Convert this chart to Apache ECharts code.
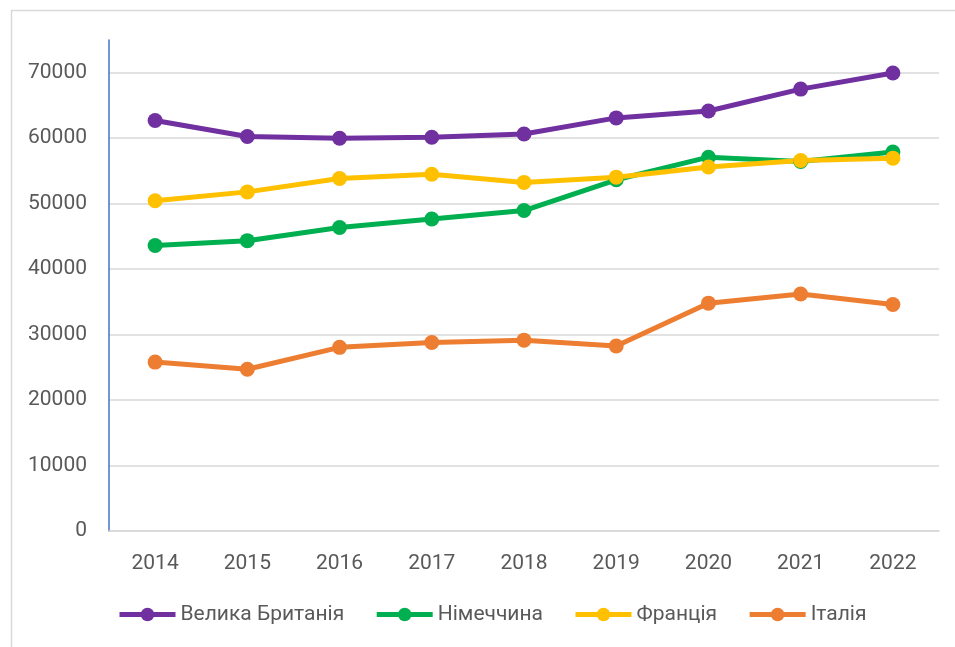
<!DOCTYPE html>
<html>
<head>
<meta charset="utf-8">
<script src="https://cdn.jsdelivr.net/npm/echarts@6/dist/echarts.min.js"></script>
<style>
html,body{margin:0;padding:0;background:#fff;}
#chart{width:955px;height:647px;}
</style>
</head>
<body>
<div id="chart"></div>
<script>
const years = ['2014','2015','2016','2017','2018','2019','2020','2021','2022'];
const seriesNames = ['Велика Британія','Німеччина','Франція','Італія'];
const uk = [62700, 60250, 60000, 60150, 60650, 63100, 64150, 67500, 69950];
const germany = [43600, 44350, 46350, 47650, 48950, 53650, 57100, 56450, 57900];
const france = [50450, 51800, 53850, 54500, 53250, 54050, 55600, 56600, 56950];
const italy = [25800, 24700, 28050, 28800, 29150, 28250, 34800, 36200, 34600];
const colors = ['#7030A0','#00B050','#FFC000','#ED7D31'];
const values = [uk, germany, france, italy];

const FONT = 'Roboto';
const chart = echarts.init(document.getElementById('chart'), null, {renderer:'canvas'});
chart.setOption({
  animation: false,
  backgroundColor: '#fff',
  color: colors,
  graphic: [{
    type: 'rect', left: 9, top: 8,
    shape: {x: 0, y: 0, width: 960, height: 660},
    style: {fill: 'none', stroke: '#D9D9D9', lineWidth: 1.5},
    silent: true, z: -1
  }],
  grid: {left: 109, right: 16, top: 40, bottom: 116},
  legend: {
    left: 117, top: 604, padding: 0,
    itemWidth: 56, itemHeight: 17, itemGap: 30,
    lineStyle: {width: 5},
    textStyle: {fontFamily: FONT, fontSize: 21, color: '#595959'},
    data: seriesNames
  },
  xAxis: {
    type: 'category', data: years, boundaryGap: true,
    axisLine: {show: true, lineStyle: {color: '#D9D9D9', width: 1.5}},
    axisTick: {show: false},
    axisLabel: {fontFamily: FONT, fontSize: 21, color: '#595959', margin: 22}
  },
  yAxis: {
    type: 'value', min: 0, max: 75000, interval: 10000,
    axisLine: {show: true, lineStyle: {color: '#4472C4', width: 1.5}},
    axisTick: {show: false},
    axisLabel: {fontFamily: FONT, fontSize: 21, color: '#595959', margin: 22, showMaxLabel: false,
      formatter: v => String(v)},
    splitLine: {show: true, showMaxLine: false, lineStyle: {color: '#D9D9D9', width: 1.5}}
  },
  series: seriesNames.map((n, i) => ({
    name: n, type: 'line', data: values[i],
    symbol: 'circle', symbolSize: 15,
    lineStyle: {width: 5, color: colors[i]},
    itemStyle: {color: colors[i]}
  }))
});
</script>
</body>
</html>
